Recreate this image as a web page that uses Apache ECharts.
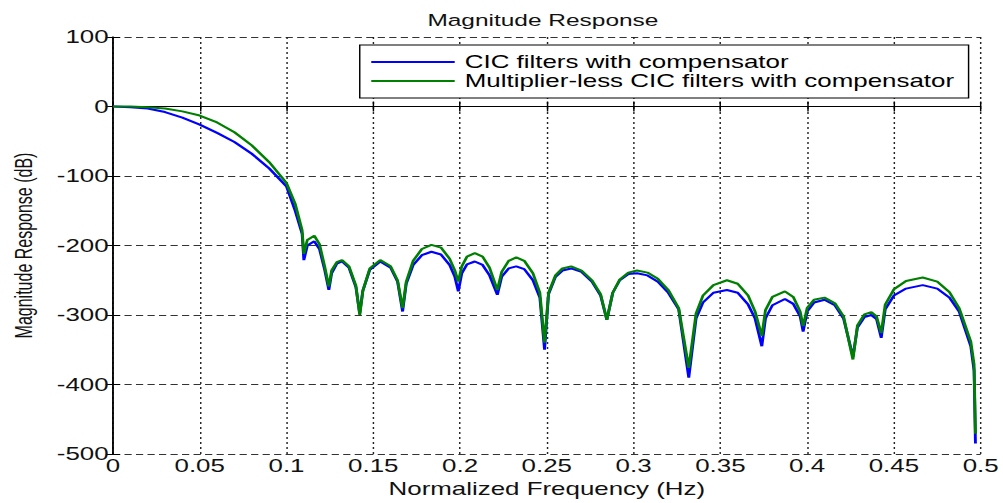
<!DOCTYPE html>
<html>
<head>
<meta charset="utf-8">
<script src="https://cdn.jsdelivr.net/npm/echarts@6.0.0/dist/echarts.min.js"></script>
<style>
  html, body { margin: 0; padding: 0; background: #fff; overflow: hidden; }
  #chart { position: absolute; left: 0; top: 0; width: 697px; height: 503px;
           transform: scaleX(1.439); transform-origin: 0 0; }
</style>
</head>
<body>
<div id="chart"></div>
<script>
// Normalized frequency (Hz)
const freq = [0,0.01,0.02,0.03,0.04,0.05,0.06,0.07,0.08,0.09,0.1,0.105,0.109,0.110,0.112,0.116,0.119,0.122,0.1244,0.126,0.129,0.132,0.136,0.140,0.1422,0.144,0.148,0.154,0.160,0.164,0.1669,0.169,0.173,0.178,0.1835,0.189,0.194,0.197,0.199,0.201,0.204,0.2085,0.213,0.217,0.2215,0.224,0.228,0.2324,0.237,0.242,0.246,0.2487,0.251,0.255,0.259,0.264,0.270,0.276,0.281,0.2846,0.288,0.292,0.297,0.302,0.308,0.314,0.320,0.326,0.3318,0.336,0.340,0.346,0.3538,0.360,0.366,0.370,0.3739,0.376,0.380,0.3872,0.392,0.396,0.3977,0.400,0.404,0.410,0.416,0.421,0.4264,0.429,0.433,0.437,0.440,0.4427,0.445,0.450,0.457,0.4666,0.475,0.482,0.4876,0.4943,0.4962,0.497];
// CIC filters with compensator (dB)
const cicComp = [0,-1,-3,-8,-16,-26,-38,-51,-68,-89,-115,-150,-183,-221,-200,-194,-205,-235,-264,-240,-226,-223,-232,-260,-298,-265,-235,-223,-232,-252,-295,-255,-228,-214,-209,-213,-228,-245,-266,-240,-227,-223,-228,-243,-271,-245,-233,-230,-234,-250,-275,-350,-270,-245,-236,-233,-238,-252,-272,-307,-268,-250,-241,-240,-243,-252,-268,-292,-390,-305,-282,-268,-264,-268,-285,-305,-345,-305,-286,-277,-284,-302,-324,-295,-282,-278,-286,-305,-360,-318,-303,-300,-306,-333,-292,-272,-262,-257,-262,-275,-295,-345,-380,-485];
// Multiplier-less CIC filters with compensator (dB)
const mlComp = [0,0,-1,-3,-7,-13,-23,-37,-56,-80,-110,-140,-178,-212,-192,-186,-198,-230,-259,-236,-224,-221,-230,-258,-300,-265,-233,-221,-230,-250,-290,-252,-222,-205,-199,-203,-219,-236,-252,-230,-216,-211,-216,-232,-264,-238,-222,-217,-222,-240,-268,-340,-268,-243,-233,-230,-236,-250,-270,-307,-268,-249,-239,-236,-239,-248,-264,-290,-376,-298,-272,-257,-250,-255,-272,-295,-330,-293,-274,-266,-274,-295,-316,-290,-278,-275,-283,-302,-364,-315,-299,-296,-302,-326,-285,-263,-251,-246,-252,-267,-290,-338,-371,-471];
const seriesNames = ['CIC filters with compensator', 'Multiplier-less CIC filters with compensator'];
const xTicks = [0,0.05,0.1,0.15,0.2,0.25,0.3,0.35,0.4,0.45,0.5];
const yTicks = [-500,-400,-300,-200,-100,0,100];

const chart = echarts.init(document.getElementById('chart'), null, { renderer: 'svg' });
const font = 'Liberation Sans, Arial, sans-serif';
const hGrid = { show: true, lineStyle: { color: '#333', width: 1, type: [5, 3] } };
const vGrid = { show: true, lineStyle: { color: '#222', width: 1, type: [2, 3] } };

chart.setOption({
  animation: false,
  backgroundColor: '#fff',
  title: {
    text: 'Magnitude Response', left: 292, top: 6,
    textStyle: { fontFamily: font, fontSize: 17, fontWeight: 'normal', color: '#111' }
  },
  grid: { left: 78.5, right: 12.5, top: 37, bottom: 46, show: false },
  legend: {
    orient: 'vertical', left: 250, top: 45,
    padding: [8, 10, 8, 8], itemGap: 1,
    itemWidth: 58, itemHeight: 2, icon: 'rect',
    backgroundColor: '#fff', borderColor: '#000', borderWidth: 1,
    textStyle: { fontFamily: font, fontSize: 18, color: '#000', padding: [0, 0, 0, 2] },
    data: seriesNames
  },
  xAxis: [{
    type: 'value', min: 0, max: 0.5, interval: 0.05, position: 'bottom',
    name: 'Normalized Frequency (Hz)', nameLocation: 'middle', nameGap: 26,
    nameTextStyle: { fontFamily: font, fontSize: 18, color: '#111' },
    axisLine: { show: true, lineStyle: { color: '#000', width: 1 } },
    axisTick: { show: true, inside: true, length: 5, lineStyle: { color: '#000' } },
    axisLabel: { fontFamily: font, fontSize: 18, color: '#111', margin: 3,
      formatter: v => { const t = xTicks.find(x => Math.abs(x - v) < 1e-9); return t === undefined ? '' : String(t); } },
    splitLine: vGrid
  }, {
    type: 'value', min: 0, max: 0.5, interval: 0.05, position: 'top',
    axisLine: { show: true, lineStyle: { color: '#000', width: 1 } },
    axisTick: { show: true, inside: true, length: 5, lineStyle: { color: '#000' } },
    axisLabel: { show: false }, splitLine: { show: false }
  }],
  yAxis: [{
    type: 'value', min: -500, max: 100, interval: 100, position: 'left',
    name: 'Magnitude Response (dB)', nameLocation: 'middle', nameGap: 54, nameRotate: 90,
    nameTextStyle: { fontFamily: font, fontSize: 16, color: '#111' },
    axisLine: { show: true, lineStyle: { color: '#000', width: 1 } },
    axisTick: { show: true, inside: true, length: 5, lineStyle: { color: '#000' } },
    axisLabel: { fontFamily: font, fontSize: 18, color: '#111', margin: 3,
      formatter: v => { const t = yTicks.find(y => Math.abs(y - v) < 1e-9); return t === undefined ? '' : String(t); } },
    splitLine: hGrid
  }, {
    type: 'value', min: -500, max: 100, interval: 100, position: 'right',
    axisLine: { show: true, lineStyle: { color: '#000', width: 1 } },
    axisTick: { show: true, inside: true, length: 5, lineStyle: { color: '#000' } },
    axisLabel: { show: false }, splitLine: { show: false }
  }],
  series: [{
    name: seriesNames[0], type: 'line', symbol: 'none', smooth: false,
    lineStyle: { color: '#0000ff', width: 2 }, itemStyle: { color: '#0000ff' },
    data: freq.map((f, i) => [f, cicComp[i]])
  }, {
    name: seriesNames[1], type: 'line', symbol: 'none', smooth: false,
    lineStyle: { color: '#008000', width: 2 }, itemStyle: { color: '#008000' },
    data: freq.map((f, i) => [f, mlComp[i]])
  }]
});
</script>
</body>
</html>
